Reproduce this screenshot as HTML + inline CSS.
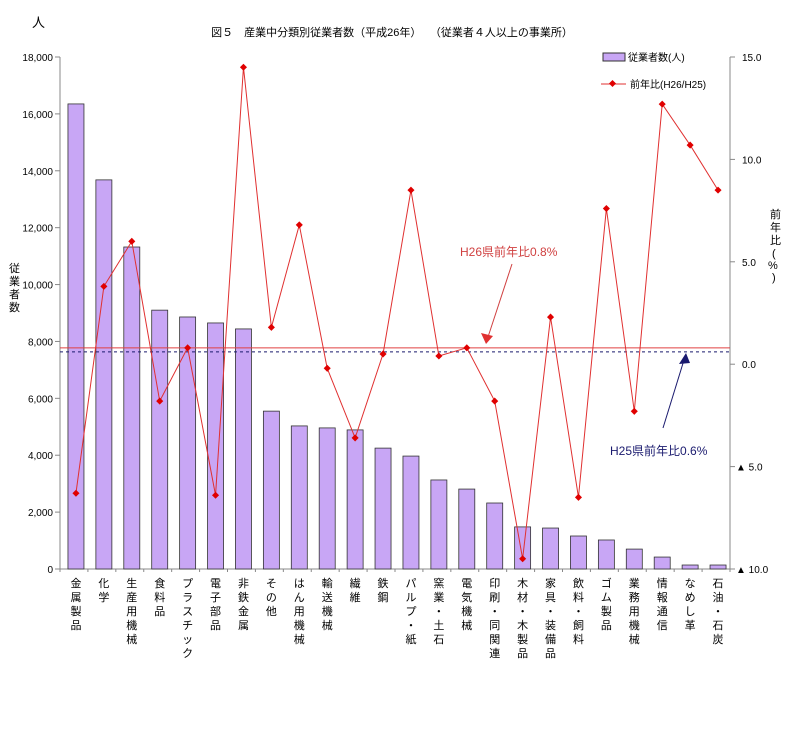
<!DOCTYPE html>
<html><head><meta charset="utf-8"><style>
body{margin:0;background:#fff}
svg text{font-family:"Liberation Sans","Noto Sans CJK JP",sans-serif}
</style></head><body>
<svg id="c" width="794" height="727" xmlns="http://www.w3.org/2000/svg">
<text x="32" y="27" font-size="13">人</text>
<text x="392" y="36" font-size="11" text-anchor="middle">図５　産業中分類別従業者数（平成26年）　 （従業者４人以上の事業所）</text>
<text x="14" y="272" font-size="11"><tspan x="9" dy="0">従</tspan><tspan x="9" dy="13">業</tspan><tspan x="9" dy="13">者</tspan><tspan x="9" dy="13">数</tspan></text>
<text x="770" y="218" font-size="11"><tspan x="770" dy="0">前</tspan><tspan x="770" dy="13">年</tspan><tspan x="770" dy="13">比</tspan><tspan x="772" dy="13">(</tspan><tspan x="768" dy="12">%</tspan><tspan x="772" dy="12">)</tspan></text>
<g id="g"></g>
<g>
<rect x="603" y="53" width="22" height="8" fill="#c8a6f5" stroke="#333"/>
<text x="628" y="61" font-size="10">従業者数(人)</text>
<line x1="601" y1="84" x2="626" y2="84" stroke="#e03030"/>
<rect x="610" y="81" width="5" height="5" fill="#e00000" transform="rotate(45 612.5 83.5)"/>
<text x="630" y="88" font-size="10">前年比(H26/H25)</text>
</g>
<text x="460" y="256" font-size="12" fill="#d04040">H26県前年比0.8%</text>
<line x1="512" y1="264" x2="488" y2="337" stroke="#d04040"/>
<polygon points="486,344 481,333 493,336" fill="#e03030"/>
<text x="610" y="455" font-size="12" fill="#1a1a6e">H25県前年比0.6%</text>
<line x1="663" y1="428" x2="684" y2="360" stroke="#1a1a6e"/>
<polygon points="686,353 679,364 690,363" fill="#1a1a6e"/>
</svg>
<script>
const categories=["金属製品","化学","生産用機械","食料品","プラスチック","電子部品","非鉄金属","その他","はん用機械","輸送機械","繊維","鉄鋼","パルプ・紙","窯業・土石","電気機械","印刷・同関連","木材・木製品","家具・装備品","飲料・飼料","ゴム製品","業務用機械","情報通信","なめし革","石油・石炭"];
const employees=[16350,13680,11320,9100,8860,8650,8440,5550,5030,4960,4890,4250,3970,3130,2810,2320,1480,1440,1160,1020,700,420,140,140];
const ratio=[-6.3,3.8,6.0,-1.8,0.8,-6.4,14.5,1.8,6.8,-0.2,-3.6,0.5,8.5,0.4,0.8,-1.8,-9.5,2.3,-6.5,7.6,-2.3,12.7,10.7,8.5];
const leftTicks=[0,2000,4000,6000,8000,10000,12000,14000,16000,18000];
const rightTicks=[15,10,5,0,-5,-10];
const refH26=0.8, refH25=0.6;
const NS="http://www.w3.org/2000/svg",g=document.getElementById('g');
const L=60,R=730,T=57,B=569,n=categories.length,bw=(R-L)/n;
const yL=v=>B-(v/18000)*(B-T);
const yR=v=>B-((v+10)/25)*(B-T);
const xC=i=>L+bw*(i+0.5)+2;
function mk(t,a){const e=document.createElementNS(NS,t);for(const k in a)e.setAttribute(k,a[k]);g.appendChild(e);return e;}
let e;
e=mk('line',{x1:L,y1:T,x2:L,y2:B,stroke:'#888'});


e=mk('line',{x1:R,y1:T,x2:R,y2:B,stroke:'#888'});


e=mk('line',{x1:L,y1:B,x2:R,y2:B,stroke:'#888'});


leftTicks.forEach(v=>{const y=yL(v);
e=mk('line',{x1:L-5,y1:y,x2:L,y2:y,stroke:'#888'});


e=mk('text',{x:L-7,y:y+4,'font-size':10,'text-anchor':'end'});e.textContent=v.toLocaleString('en-US');

});
rightTicks.forEach(v=>{const y=yR(v);
e=mk('line',{x1:R,y1:y,x2:R+5,y2:y,stroke:'#888'});


e=mk('text',{x:v<0?R+6:R+12,y:y+4,'font-size':10});e.textContent=(v<0?'▲ ':'')+Math.abs(v).toFixed(1);

});
for(let i=0;i<=n;i++){const x=L+bw*i;
e=mk('line',{x1:x,y1:B,x2:x,y2:B+3,stroke:'#888'});

}
employees.forEach((v,i)=>{const y=yL(v);
e=mk('rect',{x:xC(i)-8,y:y,width:16,height:B-y,fill:'#c8a6f5',stroke:'#333','stroke-width':0.8});

});
categories.forEach((c,i)=>{const chars=[...c];
e=mk('text',{'font-size':11,'text-anchor':'middle'});
chars.forEach((ch,k)=>{const t=document.createElementNS(NS,'tspan');t.setAttribute('x',xC(i));t.setAttribute('y',B+18+k*14);t.textContent=ch;e.appendChild(t);});

});
e=mk('line',{x1:L,y1:yR(refH26),x2:R,y2:yR(refH26),stroke:'#e04040','stroke-width':1});


e=mk('line',{x1:L,y1:yR(refH25),x2:R,y2:yR(refH25),stroke:'#1a1a6e','stroke-width':1,'stroke-dasharray':'3,3'});


e=mk('polyline',{points:ratio.map((v,i)=>xC(i)+','+yR(v)).join(' '),fill:'none',stroke:'#e03030','stroke-width':1});


ratio.forEach((v,i)=>{const x=xC(i),y=yR(v);
e=mk('rect',{x:x-2.5,y:y-2.5,width:5,height:5,fill:'#e00000',transform:`rotate(45 ${x} ${y})`});

});
</script>
</body></html>
